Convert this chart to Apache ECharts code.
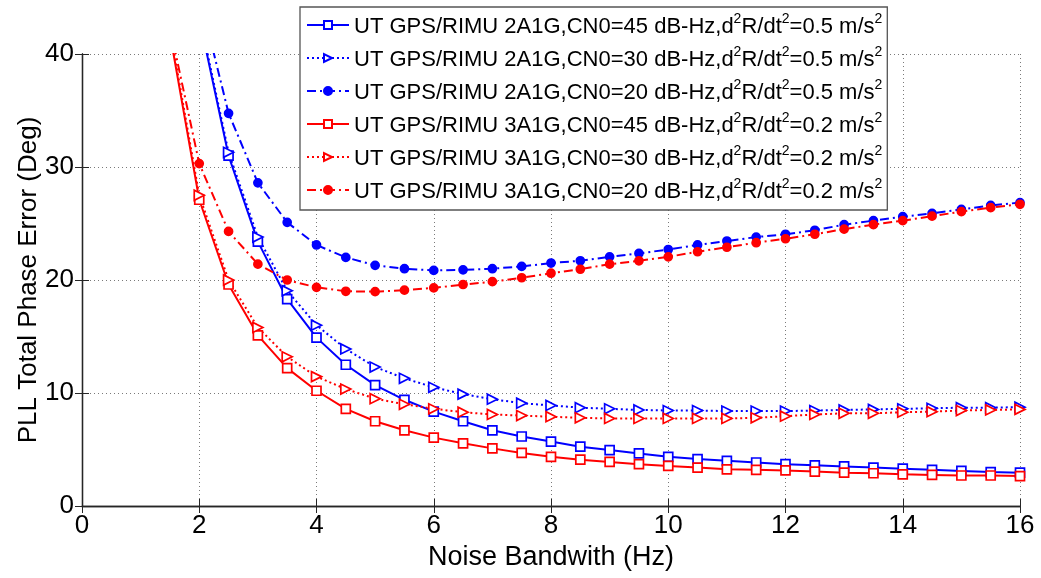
<!DOCTYPE html>
<html>
<head>
<meta charset="utf-8">
<script src="https://cdn.jsdelivr.net/npm/echarts@6/dist/echarts.min.js"></script>
<style>html,body{margin:0;padding:0;background:#fff}#c{width:1041px;height:578px}</style>
</head>
<body>
<div id="c"></div>
<script>
// Noise bandwidth (Hz)
const xs = [1.5,2,2.5,3,3.5,4,4.5,5,5.5,6,6.5,7,7.5,8,8.5,9,9.5,10,10.5,11,11.5,12,12.5,13,13.5,14,14.5,15,15.5,16];
const xTicks = [0,2,4,6,8,10,12,14,16];
const yTicks = [0,10,20,30,40];
const names = [
  'UT GPS/RIMU 2A1G,CN0=45 dB-Hz,d^2R/dt^2=0.5 m/s^2',
  'UT GPS/RIMU 2A1G,CN0=30 dB-Hz,d^2R/dt^2=0.5 m/s^2',
  'UT GPS/RIMU 2A1G,CN0=20 dB-Hz,d^2R/dt^2=0.5 m/s^2',
  'UT GPS/RIMU 3A1G,CN0=45 dB-Hz,d^2R/dt^2=0.2 m/s^2',
  'UT GPS/RIMU 3A1G,CN0=30 dB-Hz,d^2R/dt^2=0.2 m/s^2',
  'UT GPS/RIMU 3A1G,CN0=20 dB-Hz,d^2R/dt^2=0.2 m/s^2'
];
// PLL total phase error (deg)
const b45 = [null,43.2,31.0,23.4,18.3,14.9,12.5,10.7,9.4,8.35,7.5,6.7,6.15,5.7,5.25,4.95,4.65,4.35,4.15,4.0,3.85,3.7,3.6,3.5,3.4,3.3,3.2,3.1,3.0,2.95];
const b30 = [null,43.5,31.3,23.8,19.05,16.0,13.9,12.3,11.3,10.5,9.9,9.45,9.1,8.9,8.7,8.6,8.5,8.45,8.45,8.4,8.4,8.4,8.45,8.5,8.55,8.6,8.65,8.7,8.7,8.75];
const b20 = [null,45.3,34.75,28.6,25.1,23.1,22.0,21.3,21.0,20.85,20.9,21.0,21.2,21.5,21.7,22.05,22.35,22.7,23.1,23.45,23.8,24.05,24.4,24.9,25.25,25.6,25.9,26.25,26.6,26.85];
const r45 = [41.8,27.1,19.6,15.1,12.2,10.2,8.6,7.5,6.7,6.05,5.55,5.1,4.7,4.35,4.1,3.9,3.7,3.55,3.4,3.25,3.2,3.15,3.05,2.95,2.9,2.8,2.75,2.7,2.7,2.65];
const r30 = [42.2,27.5,20.0,15.8,13.2,11.45,10.35,9.5,9.0,8.6,8.3,8.1,8.0,7.9,7.8,7.75,7.75,7.75,7.75,7.75,7.8,7.95,8.1,8.2,8.2,8.3,8.35,8.45,8.5,8.55];
const r20 = [42.4,30.3,24.3,21.4,20.0,19.35,19.0,18.97,19.1,19.3,19.6,19.85,20.2,20.6,20.95,21.4,21.7,22.05,22.5,22.9,23.3,23.65,24.05,24.5,24.9,25.25,25.65,26.05,26.4,26.7];

const FONT = '"Liberation Sans", Arial, sans-serif';
const BLUE = '#0000ff', RED = '#ff0000';
const dashDot = [9,4,2,4];
const dotted = [2,3];

function pairs(arr){ return xs.map((x,i)=>[x, arr[i]]); }
function mk(name, arr, color, ltype, sym){
  const s = {
    name, type:'line', data: pairs(arr), clip:true, animation:false,
    lineStyle:{color, width:2, type: ltype},
    itemStyle:{color, borderColor:color, borderWidth:1.7},
    symbolKeepAspect:true
  };
  if (sym==='sq'){ s.symbol='rect'; s.symbolSize=9; s.itemStyle.color='#fff'; }
  else if (sym==='tri'){ s.symbol='triangle'; s.symbolSize=[10,10]; s.symbolRotate=-90; s.itemStyle.color='#fff'; }
  else { s.symbol='circle'; s.symbolSize=8; }
  return s;
}

const series = [
  mk(names[0], b45, BLUE, 'solid', 'sq'),
  mk(names[1], b30, BLUE, dotted, 'tri'),
  mk(names[2], b20, BLUE, dashDot, 'dot'),
  mk(names[3], r45, RED, 'solid', 'sq'),
  mk(names[4], r30, RED, dotted, 'tri'),
  mk(names[5], r20, RED, dashDot, 'dot')
];

const chart = echarts.init(document.getElementById('c'), null, {renderer:'canvas'});
const axisLine = {show:true, lineStyle:{color:'#262626', width:1.3}};
const splitLine = {show:true, lineStyle:{color:'#7a7a7a', width:1, type:[1,3]}};
chart.setOption({
  backgroundColor:'#fff',
  animation:false,
  textStyle:{fontFamily:FONT},
  grid:{left:82, right:21, top:54, bottom:72, show:false},
  legend:{
    orient:'vertical', left:300, top:7,
    backgroundColor:'#fff', borderColor:'#555', borderWidth:1.3,
    padding:[5,5,7,6],
    itemWidth:42, itemHeight:10, itemGap:7,
    data: names,
    formatter: function(n){
      return '{n|' + n.replace(/\^(\d)/g, '}{s|$1}{n|') + '}';
    },
    textStyle:{
      fontFamily:FONT, color:'#000', fontSize:22,
      rich:{
        n:{fontFamily:FONT, fontSize:22, color:'#000', lineHeight:26, verticalAlign:'bottom'},
        s:{fontFamily:FONT, fontSize:14, color:'#000', lineHeight:14, verticalAlign:'top'}
      }
    }
  },
  xAxis:[{
    type:'value', min:0, max:16, interval:2,
    name:'Noise Bandwith (Hz)', nameLocation:'middle', nameGap:30,
    nameTextStyle:{fontFamily:FONT, fontSize:27, color:'#000'},
    axisLine, axisTick:{show:true, inside:true, length:7, lineStyle:{color:'#262626'}},
    axisLabel:{fontFamily:FONT, fontSize:26, color:'#000', margin:7},
    splitLine
  },{
    type:'value', min:0, max:16, interval:2, position:'top',
    axisLine, axisTick:{show:true, inside:true, length:7, lineStyle:{color:'#262626'}},
    axisLabel:{show:false}, splitLine:{show:false}
  }],
  yAxis:[{
    type:'value', min:0, max:40, interval:10,
    name:'PLL Total Phase Error (Deg)', nameLocation:'middle', nameGap:40,
    nameMoveOverlap:false,
    nameTextStyle:{fontFamily:FONT, fontSize:26, color:'#000'},
    axisLine, axisTick:{show:true, inside:true, length:7, lineStyle:{color:'#262626'}},
    axisLabel:{fontFamily:FONT, fontSize:26, color:'#000', margin:8},
    splitLine
  },{
    type:'value', min:0, max:40, interval:10, position:'right',
    axisLine, axisTick:{show:true, inside:true, length:7, lineStyle:{color:'#262626'}},
    axisLabel:{show:false}, splitLine:{show:false}
  }],
  series
});
</script>
</body>
</html>
